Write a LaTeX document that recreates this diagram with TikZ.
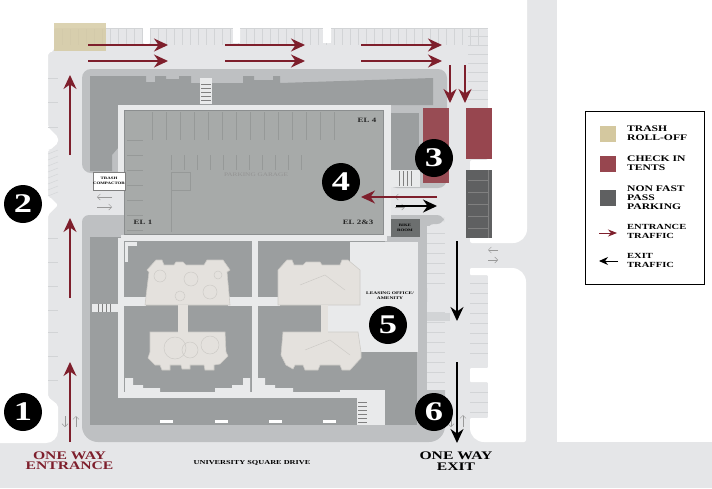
\documentclass[tikz,border=0pt]{standalone}
\usepackage{fontspec}
\setmainfont[FakeStretch=1.35]{Liberation Serif}
\usetikzlibrary{arrows.meta}
\definecolor{road}{HTML}{E5E6E8}
\definecolor{walk}{HTML}{BEC0C2}
\definecolor{bldg}{HTML}{9B9E9F}
\definecolor{garage}{HTML}{A7AAA9}
\definecolor{ring}{HTML}{E9EAEB}
\definecolor{court}{HTML}{E4E1DD}
\definecolor{courtline}{HTML}{CDCBC7}
\definecolor{tick}{HTML}{D2D4D6}
\definecolor{wine}{HTML}{7E1F2C}
\definecolor{trash}{HTML}{D4C89F}
\definecolor{tent}{HTML}{97464F}
\definecolor{nonfast}{HTML}{5F6061}
\begin{document}
\begin{tikzpicture}[x=1pt,y=-1pt]
\tikzstyle{num}=[circle,fill=black,text=white,minimum size=38pt,inner sep=0pt,font=\fontsize{27}{27}\selectfont\bfseries]
\tikzstyle{lab}=[align=left,anchor=north west,inner sep=0pt,font=\fontsize{8.6}{8.6}\selectfont\bfseries]
\tikzstyle{tinylab}=[align=center,inner sep=0pt,font=\fontsize{3.6}{4.4}\selectfont\bfseries]
\tikzstyle{el}=[inner sep=0pt,font=\fontsize{6.6}{7}\selectfont\bfseries,text=black!85]
\tikzstyle{way}=[align=center,inner sep=0pt,font=\fontsize{11.6}{10.4}\selectfont\bfseries]
\tikzstyle{entr}=[draw=wine,line width=1.3pt,-{Stealth[length=14pt,width=13pt]}]
\tikzstyle{exitr}=[draw=black,line width=1.5pt,-{Stealth[length=14pt,width=13pt]}]
\tikzstyle{roadarrow}=[draw=gray!80,line width=.5pt,-{Straight Barb[length=3pt,width=6pt]}]
\tikzstyle{courtyard}=[fill=court,draw=courtline,line width=.6pt]
\useasboundingbox (0,0) rectangle (712,488);
% ground
\fill[road] (0,0) rectangle (712,488);
\fill[white] (557,0) rectangle (712,442);
\fill[white] (0,0) -- (527,0) [rounded corners=14pt] -- (527,243) [rounded corners=2pt] -- (470,243) -- (470,160) -- (488,160) -- (488,28)
  -- (331,28) -- (331,43) -- (323,43) -- (323,28) -- (240,28) -- (240,43) -- (233,43) -- (233,28) -- (150,28) -- (150,44) -- (143,44) -- (143,28) -- (54,28) -- (54,51) -- (48,53)
  -- (48,127) -- (58,137) -- (58,143) -- (50,150) -- (48,150) -- (48,197) -- (50,197) -- (58,205) -- (48,215) -- (48,397) -- (58,405) [rounded corners=12pt] -- (58,443) [sharp corners] -- (0,443) -- cycle;
\fill[white,rounded corners=2pt] (470,268) [rounded corners=14pt] -- (526,268) [rounded corners=2pt] -- (526,442) [rounded corners=14pt] -- (470,442) [rounded corners=1pt] -- (470,418) -- (488,418) -- (488,382) -- (470,382) -- (470,368) -- (488,368) -- (488,275) -- (470,275) -- cycle;
% parking ticks
\foreach \x in {62,70,...,478} \draw[tick,line width=.4pt] (\x,29) -- (\x,45);
\foreach \cx/\cw in {143/7,233/7,323/8} \fill[white] (\cx,28) rectangle (\cx+\cw,43);
\draw[tick,line width=.4pt] (106,28) -- (143,28) (150,28) -- (233,28) (240,28) -- (323,28) (331,28) -- (488,28);
\foreach \y in {78,102,127,238,262,286,310,332,356,380} \draw[tick,line width=.5pt] (48,\y) -- (58,\y);
\foreach \y in {36,45,...,108} \draw[tick,line width=.4pt] (468,\y) -- (488,\y);
\foreach \y in {283,293,...,362} \draw[tick,line width=.4pt] (470,\y) -- (488,\y);
\foreach \y in {392,402,412} \draw[tick,line width=.4pt] (470,\y) -- (488,\y);
\foreach \y in {154,160,...,196} \draw[tick,line width=.4pt] (48,\y) -- (58,\y-4);
% sidewalk round the buildings
\fill[walk,rounded corners=9pt] (82,173) -- (82,69) -- (447,69) -- (447,188) -- (388,188) -- (388,173) -- cycle;
\fill[walk,rounded corners=7pt] (82,442) -- (82,215) -- (444,215) -- (444,224) -- (427,224) [rounded corners=0pt] -- (427,390) -- (445,390) [rounded corners=16pt] -- (445,442) -- cycle;
\fill[road] (427,226) rectangle (445,288);
\fill[road] (427,302) rectangle (445,390);
\foreach \y in {233,243,...,283} \draw[tick,line width=.4pt] (427,\y) -- (445,\y);
\foreach \y in {312,322,...,385} \draw[tick,line width=.4pt] (427,\y) -- (445,\y);
\fill[tick] (427,313) rectangle (450,321);
% buildings
\fill[bldg] (90,76) -- (146,76) -- (146,82) -- (155,82) -- (155,76) -- (166,76) -- (166,79) -- (179,79) -- (179,76) -- (191,76) -- (191,83) -- (243,83) -- (243,76) -- (254,76) -- (254,80) -- (273,80) -- (273,76) -- (280,76) -- (280,83) -- (433,78) -- (433,105) -- (124,105) -- (118,112) -- (118,148) -- (112,155) -- (112,171) -- (90,171) -- cycle;
\fill[ring] (200,78) rectangle (212,104);
\foreach \y in {84,88,...,100} \draw[gray,line width=.3pt] (201,\y) -- (211,\y);
\fill[bldg] (391,113) -- (419,113) -- (419,170) -- (391,170) -- cycle;
\fill[ring] (391,170) rectangle (420,187);
\foreach \x in {399,403,407,411} \draw[gray,line width=.3pt] (\x,171) -- (\x,186);
\fill[bldg] (90,237) -- (117,237) -- (117,425) -- (90,425) -- cycle;
\fill[bldg] (115,390) rectangle (417,425);
\fill[bldg] (117,237) rectangle (385,395);
\fill[bldg] (385,352) rectangle (417,395);
\fill[ring] (350,242) rectangle (418,352);
\fill[ring] (328,305) rectangle (360,333);
\fill[ring] (92,304) rectangle (118,312);
\foreach \x in {98,102,106,110} \draw[gray,line width=.3pt] (\x,304) -- (\x,312);
% white walks round the courts
\draw[ring,line width=6pt] (121,238) -- (121,394.5) -- (358,394.5) (121,238) -- (387,238) (254.5,238) -- (254.5,394.5);
\fill[ring] (121,297) rectangle (146,306);
\fill[ring] (228,297) rectangle (280,306);
\fill[ring] (125,378) -- (133,378) -- (133,385) -- (143,385) -- (143,388) -- (160,388) -- (160,392) -- (125,392) -- cycle;
\fill[ring] (250,378) -- (243,378) -- (243,385) -- (232,385) -- (232,388) -- (215,388) -- (215,392) -- (250,392) -- cycle;
\fill[ring] (258,378) -- (265,378) -- (265,385) -- (275,385) -- (275,388) -- (293,388) -- (293,392) -- (258,392) -- cycle;
\fill[ring] (125,242) rectangle (137,246);
\fill[ring] (125,242) rectangle (128,262);
\fill[ring] (340,390) rectangle (385,398);
\fill[ring] (357,398) rectangle (385,425);
\foreach \y in {402,406,...,422} \draw[gray,line width=.3pt] (358,\y) -- (367,\y);
\foreach \x in {160,215,269,323} \fill[white] (\x,420) rectangle (\x+13,423);
% courts
\path[courtyard] (147,270) -- (156,260) -- (162,260) -- (164,265) -- (174,265) -- (176,262) -- (183,262) -- (186,265) -- (204,265) -- (207,260) -- (223,260) -- (230,270) -- (227,272) -- (230,305) -- (145,305) -- (149,272) -- cycle;
\path[courtyard] (150,332) -- (225,332) -- (226,352) -- (228,356) -- (220,364) -- (214,365) -- (214,370) -- (205,370) -- (204,365) -- (190,365) -- (190,369) -- (182,369) -- (181,365) -- (170,365) -- (170,370) -- (162,370) -- (160,365) -- (155,365) -- (148,358) -- (150,352) -- cycle;
\fill[court] (178,305) rectangle (188,334);
\path[courtyard] (278,270) -- (287,260) -- (292,260) -- (294,265) -- (303,265) -- (306,262) -- (320,262) -- (322,265) -- (340,265) -- (342,260) -- (348,260) -- (360,270) -- (360,305) -- (278,305) -- cycle;
\path[courtyard] (283,332) -- (358,332) -- (361,352) -- (361,358) -- (350,370) -- (342,370) -- (340,365) -- (320,365) -- (318,370) -- (305,370) -- (303,365) -- (295,365) -- (293,369) -- (286,365) -- (281,355) -- cycle;
\fill[court] (321,305) rectangle (328,334);
\draw[courtline,line width=.5pt] (160,276) circle (6pt) (191,279) circle (7pt) (210,292) circle (7pt) (180,296) circle (5pt) (218,275) circle (4pt);
\draw[courtline,line width=.5pt] (175,348) circle (11pt) (210,345) circle (9pt) (190,350) circle (8pt);
\draw[courtline,line width=.5pt] (300,285) -- (325,275) -- (345,290) (305,350) -- (330,340) -- (350,355);
% garage
\fill[ring] (118,105) rectangle (390,110);
\fill[ring] (118,105) rectangle (124,172);
\fill[ring] (383,105) rectangle (391,236);
\fill[garage] (124,110) rectangle (383,234);
\draw[bldg!90!black,line width=.7pt] (124,110) rectangle (383,234);
\foreach \x in {152,166,...,340} \draw[garage!90!black,line width=.3pt] (\x,112) -- (\x,140);
\foreach \x in {171,184,...,310} \draw[garage!90!black,line width=.3pt] (\x,155) -- (\x,170);
\draw[garage!90!black,line width=.4pt] (171,172) rectangle (190,190) (171,190) -- (171,232);
\foreach \y in {140,155,...,230} \draw[garage!90!black,line width=.3pt] (127,\y) -- (143,\y);
% parking colours
\fill[trash,opacity=.8] (54,23) rectangle (106,51);
\fill[tent,opacity=.95] (423,108) rectangle (449,183);
\fill[tent] (466,108) rectangle (492,159);
\fill[nonfast] (466,170) rectangle (492,238);
\foreach \y in {180,192,...,230} \draw[gray,line width=.3pt] (468,\y) -- (488,\y);
\draw[gray,line width=.4pt] (488,170) -- (488,238);
% boxes
\node[draw=gray,fill=white,minimum width=30pt,minimum height=18pt,tinylab,text=black] (compactor) at (109,181) {TRASH\\COMPACTOR};
\node[fill=bldg!70!black,minimum width=29pt,minimum height=18pt,tinylab,text=black] (bike) at (405,228) {BIKE\\ROOM};
% small grey road arrows
\draw[roadarrow] (112,197) -- (97,197);
\draw[roadarrow] (97,207) -- (112,207);
\draw[roadarrow] (404,197) -- (395,197);
\draw[roadarrow] (395,207) -- (405,207);
\draw[roadarrow] (498,250) -- (488,250);
\draw[roadarrow] (488,260) -- (498,260);
\draw[roadarrow] (65,416) -- (65,427);
\draw[roadarrow] (76,427) -- (76,416);
\draw[roadarrow] (451,415) -- (451,427);
\draw[roadarrow] (463,427) -- (463,415);
% traffic
\foreach \y in {45,61} {
  \draw[entr] (88,\y) -- (168,\y);
  \draw[entr] (225,\y) -- (305,\y);
  \draw[entr] (361,\y) -- (442,\y);
}
\draw[entr] (450,65) -- (450,103);
\draw[entr] (465,65) -- (465,103);
\draw[entr] (70,155) -- (70,75);
\draw[entr] (70,298) -- (70,218);
\draw[entr] (70,442) -- (70,362);
\draw[entr] (437,197) -- (361,197);
\draw[exitr] (396,206) -- (437,206);
\draw[exitr] (457,241) -- (457,321);
\draw[exitr] (457,362) -- (457,443);
% numbers
\node[num] (one)   at (23,412)  {1};
\node[num] (two)   at (23,204)  {2};
\node[num] (three) at (434,158) {3};
\node[num] (four)  at (341,182) {4};
\node[num] (five)  at (388,325) {5};
\node[num] (six)   at (434,412) {6};
% labels
\node[el] (el4) at (367,120) {EL 4};
\node[el] (el1) at (143,222) {EL 1};
\node[el] (el23) at (358,222) {EL 2\&3};
\node[inner sep=0pt,text=gray!85,font=\fontsize{5.4}{6}\selectfont] (pg) at (256,175) {PARKING GARAGE};
\node[tinylab,text=black,font=\fontsize{4}{5}\selectfont\bfseries] (office) at (390,296) {LEASING OFFICE/\\AMENITY};
\node[way,text=wine] (entrance) at (69.5,461) {ONE WAY\\ENTRANCE};
\node[way] (exit) at (456,461) {ONE WAY\\EXIT};
\node[inner sep=0pt,font=\fontsize{6.1}{7}\selectfont\bfseries] (street) at (252,463) {UNIVERSITY SQUARE DRIVE};
% legend
\node[draw=black,line width=.8pt,fill=white,minimum width=119pt,minimum height=173pt,inner sep=0pt] (legend) at (645,197.5) {};
\fill[trash] (600,126) rectangle (616,142);
\fill[tent] (600,156) rectangle (616,172);
\fill[nonfast] (600,190) rectangle (616,206);
\node[lab] (ltrash) at (627,126) {TRASH\\ROLL-OFF};
\node[lab] (ltent) at (627,156) {CHECK IN\\TENTS};
\node[lab] (lpark) at (627,186) {NON FAST\\PASS\\PARKING};
\node[lab,font=\fontsize{7.8}{8.6}\selectfont\bfseries] (lentr) at (627,224.5) {ENTRANCE\\TRAFFIC};
\node[lab,font=\fontsize{7.8}{8.6}\selectfont\bfseries] (lexit) at (627,253.5) {EXIT\\TRAFFIC};
\draw[draw=wine,line width=.8pt,-{Stealth[length=9pt,width=7pt]}] (599,233) -- (617,233);
\draw[draw=black,line width=1pt,-{Stealth[length=9pt,width=8pt]}] (618,261) -- (599,261);
\end{tikzpicture}
\end{document}
